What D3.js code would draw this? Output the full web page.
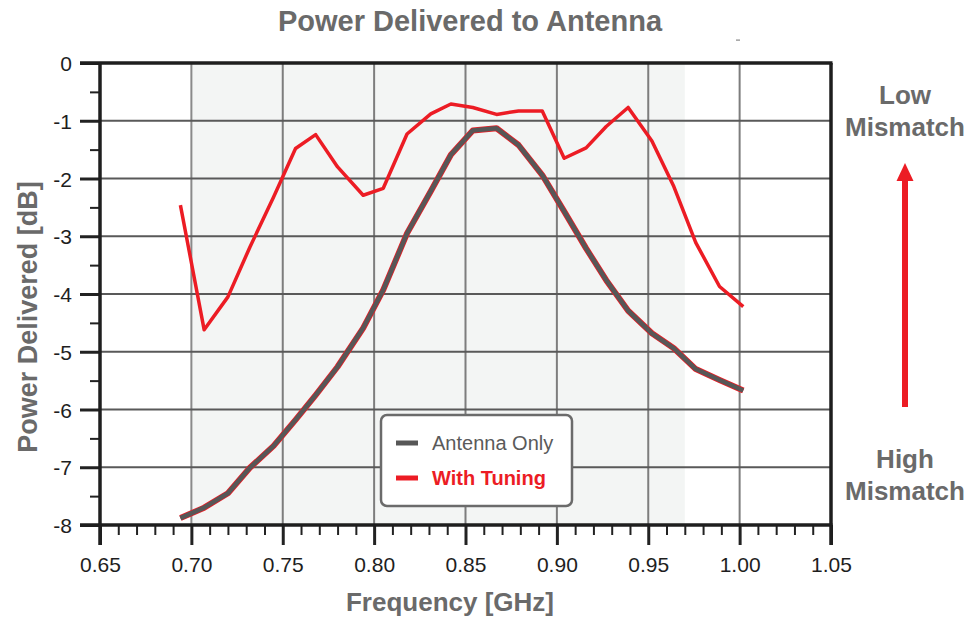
<!DOCTYPE html>
<html>
<head>
<meta charset="utf-8">
<script src="https://cdn.jsdelivr.net/npm/d3@7"></script>
<style>
  body { margin: 0; background: #fff; }
  svg { display: block; font-family: "Liberation Sans", Arial, sans-serif; }
  .tick text { fill: #1e1e1e; font-size: 21px; }
</style>
</head>
<body>
<svg id="chart" width="972" height="618"></svg>
<script>
const FREQUENCIES = [0.694, 0.707, 0.720, 0.732, 0.745, 0.757, 0.768, 0.780, 0.794, 0.805, 0.818, 0.831, 0.842,
  0.854, 0.867, 0.879, 0.892, 0.904, 0.916, 0.927, 0.939, 0.952, 0.964, 0.976, 0.989, 1.002];
const ANTENNA_ONLY = [-7.88, -7.70, -7.45, -7.01, -6.63, -6.18, -5.75, -5.26, -4.59, -3.93, -2.95, -2.22, -1.59,
  -1.17, -1.13, -1.42, -1.94, -2.57, -3.21, -3.76, -4.29, -4.68, -4.94, -5.30, -5.49, -5.67];
const WITH_TUNING = [-2.46, -4.62, -4.05, -3.19, -2.32, -1.48, -1.24, -1.80, -2.29, -2.17, -1.23, -0.88, -0.71,
  -0.77, -0.89, -0.83, -0.83, -1.65, -1.47, -1.10, -0.77, -1.35, -2.14, -3.11, -3.87, -4.22];
const X_TICKS = [0.65, 0.70, 0.75, 0.80, 0.85, 0.90, 0.95, 1.00, 1.05];
const Y_TICKS = [0, -1, -2, -3, -4, -5, -6, -7, -8];
const X_GRID = [0.70, 0.75, 0.80, 0.85, 0.90, 0.95, 1.00];
const Y_GRID = [-1, -2, -3, -4, -5, -6, -7];
const BAND = [0.70, 0.97];
const LEGEND_ITEMS = ["Antenna Only", "With Tuning"];

const RED = "#ec1c24";
const GREY = "#575757";
const TEXT_GREY = "#6a6a6a";

const svg = d3.select("#chart");
const x = d3.scaleLinear().domain([0.65, 1.05]).range([100, 831]);
const y = d3.scaleLinear().domain([-8, 0]).range([525, 63]);

// shaded band
svg.append("rect")
  .attr("x", x(BAND[0]))
  .attr("y", y(0))
  .attr("width", x(BAND[1]) - x(BAND[0]))
  .attr("height", y(-8) - y(0))
  .attr("fill", "#f3f5f4");

// grid
svg.append("g")
  .selectAll("line")
  .data(X_GRID)
  .join("line")
  .attr("x1", (d) => x(d))
  .attr("x2", (d) => x(d))
  .attr("y1", y(0))
  .attr("y2", y(-8))
  .attr("stroke", (d) => d === 0.70 ? "#8a8a8a" : "#7d7d7d")
  .attr("stroke-width", 2);

svg.append("g")
  .selectAll("line")
  .data(Y_GRID)
  .join("line")
  .attr("x1", x(0.65))
  .attr("x2", x(1.05))
  .attr("y1", (d) => y(d))
  .attr("y2", (d) => y(d))
  .attr("stroke", "#595959")
  .attr("stroke-width", 2);

// axes
const xMinor = d3.range(66, 105).filter((v) => v % 5 !== 0).map((v) => v / 100);
const yMinor = d3.range(-7.5, 0, 1);

svg.append("g")
  .attr("transform", `translate(0,${y(-8)})`)
  .call(d3.axisBottom(x).tickValues(xMinor).tickSize(10).tickFormat(""))
  .call((g) => g.select(".domain").remove())
  .call((g) => g.selectAll("line").attr("stroke", "#222").attr("stroke-width", 2));

svg.append("g")
  .attr("transform", `translate(0,${y(-8)})`)
  .call(d3.axisBottom(x).tickValues(X_TICKS).tickSize(20).tickPadding(12).tickFormat(d3.format(".2f")))
  .call((g) => g.select(".domain").remove())
  .call((g) => g.selectAll("line").attr("stroke", "#222").attr("stroke-width", 3));

svg.append("g")
  .attr("transform", `translate(${x(0.65)},0)`)
  .call(d3.axisLeft(y).tickValues(yMinor).tickSize(10).tickFormat(""))
  .call((g) => g.select(".domain").remove())
  .call((g) => g.selectAll("line").attr("stroke", "#222").attr("stroke-width", 2));

svg.append("g")
  .attr("transform", `translate(${x(0.65)},0)`)
  .call(d3.axisLeft(y).tickValues(Y_TICKS).tickSize(20).tickPadding(8).tickFormat((d) => d === 0 ? "0" : `${d}`))
  .call((g) => g.select(".domain").remove())
  .call((g) => g.selectAll("line").attr("stroke", "#222").attr("stroke-width", 3))
  .call((g) => g.selectAll("text").attr("dy", "0.36em"));

// frame
const frame = svg.append("g").attr("stroke", "#1e1e1e").attr("stroke-width", 3.5).attr("fill", "none");
frame.append("line").attr("x1", x(0.65) - 20).attr("x2", x(1.05) + 1.5).attr("y1", y(0)).attr("y2", y(0));
frame.append("line").attr("x1", x(0.65) - 20).attr("x2", x(1.05) + 1.5).attr("y1", y(-8)).attr("y2", y(-8));
frame.append("line").attr("x1", x(0.65)).attr("x2", x(0.65)).attr("y1", y(0)).attr("y2", y(-8) + 20);
frame.append("line").attr("x1", x(1.05)).attr("x2", x(1.05)).attr("y1", y(0)).attr("y2", y(-8) + 20);

// series
const line = d3.line()
  .x((d, i) => x(FREQUENCIES[i]))
  .y((d) => y(d));

svg.append("path")
  .datum(ANTENNA_ONLY)
  .attr("d", line)
  .attr("fill", "none")
  .attr("stroke", RED)
  .attr("stroke-width", 6)
  .attr("stroke-linejoin", "round");
svg.append("path")
  .datum(ANTENNA_ONLY)
  .attr("d", line)
  .attr("fill", "none")
  .attr("stroke", GREY)
  .attr("stroke-width", 4.5)
  .attr("stroke-linejoin", "round");
svg.append("path")
  .datum(WITH_TUNING)
  .attr("d", line)
  .attr("fill", "none")
  .attr("stroke", RED)
  .attr("stroke-width", 3.5)
  .attr("stroke-linejoin", "round");

// legend
const legend = svg.append("g").attr("transform", "translate(381,415)");
legend.append("rect")
  .attr("width", 191)
  .attr("height", 91)
  .attr("rx", 6)
  .attr("fill", "#fff")
  .attr("stroke", "#6b6b6b")
  .attr("stroke-width", 2.5);
const legendRow = legend.selectAll("g.row")
  .data(LEGEND_ITEMS)
  .join("g")
  .attr("class", "row")
  .attr("transform", (d, i) => `translate(0,${28 + i * 35})`);
legendRow.append("line")
  .attr("x1", 15)
  .attr("x2", 37)
  .attr("stroke", (d, i) => i === 0 ? GREY : RED)
  .attr("stroke-width", 5);
legendRow.append("text")
  .attr("x", 51)
  .attr("dy", "0.36em")
  .attr("font-size", 20)
  .attr("font-weight", (d, i) => i === 0 ? "normal" : "bold")
  .attr("fill", (d, i) => i === 0 ? "#5a5a5a" : RED)
  .text((d) => d);

// titles
svg.append("text")
  .attr("x", 470)
  .attr("y", 31)
  .attr("text-anchor", "middle")
  .attr("font-size", 29)
  .attr("font-weight", "bold")
  .attr("fill", TEXT_GREY)
  .text("Power Delivered to Antenna");

svg.append("rect").attr("x", 736).attr("y", 39.5).attr("width", 4).attr("height", 1.2).attr("fill", "#888");

svg.append("text")
  .attr("x", 450)
  .attr("y", 611)
  .attr("text-anchor", "middle")
  .attr("font-size", 26)
  .attr("font-weight", "bold")
  .attr("fill", TEXT_GREY)
  .text("Frequency [GHz]");

svg.append("text")
  .attr("transform", "translate(37,317) rotate(-90)")
  .attr("text-anchor", "middle")
  .attr("font-size", 27)
  .attr("font-weight", "bold")
  .attr("fill", TEXT_GREY)
  .text("Power Delivered [dB]");

// mismatch annotation
const note = svg.append("g")
  .attr("text-anchor", "middle")
  .attr("font-size", 26)
  .attr("font-weight", "bold")
  .attr("fill", TEXT_GREY);
note.append("text").attr("x", 905).attr("y", 104).text("Low");
note.append("text").attr("x", 905).attr("y", 136).text("Mismatch");
note.append("text").attr("x", 905).attr("y", 468).text("High");
note.append("text").attr("x", 905).attr("y", 500).text("Mismatch");

svg.append("line")
  .attr("x1", 905).attr("x2", 905)
  .attr("y1", 407).attr("y2", 178)
  .attr("stroke", RED)
  .attr("stroke-width", 6);
svg.append("path")
  .attr("d", d3.line()([[896.5, 181], [913.5, 181], [905, 163]]) + "Z")
  .attr("fill", RED);
</script>
</body>
</html>
